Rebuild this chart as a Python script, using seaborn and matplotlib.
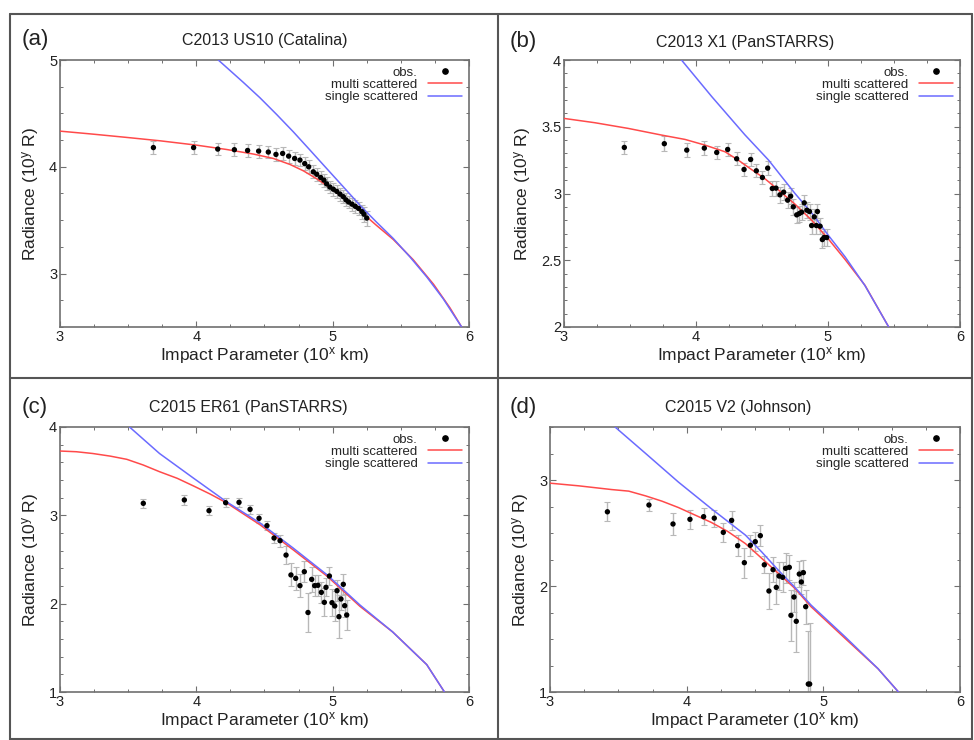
import numpy as np
import pandas as pd
import matplotlib
matplotlib.use("Agg")
import matplotlib.pyplot as plt
from matplotlib.lines import Line2D
from matplotlib.ticker import MultipleLocator, FormatStrFormatter
import seaborn as sns

# ---------------- data ----------------
# Panel (a) C2013 US10 (Catalina)
a_obs_x = [3.685, 3.98, 4.157, 4.279, 4.376, 4.457, 4.528, 4.584, 4.633, 4.677, 4.721, 4.760,
           4.795, 4.824, 4.858, 4.883, 4.912, 4.936, 4.956, 4.98, 5.005, 5.03, 5.054, 5.078,
           5.098, 5.117, 5.142, 5.166, 5.19, 5.215, 5.23, 5.25]
a_obs_y = [4.18, 4.18, 4.166, 4.16, 4.153, 4.147, 4.138, 4.116, 4.125, 4.10, 4.078, 4.063,
           4.03, 4.0, 3.953, 3.93, 3.90, 3.875, 3.84, 3.81, 3.79, 3.77, 3.744, 3.72,
           3.69, 3.67, 3.65, 3.63, 3.61, 3.58, 3.556, 3.52]
a_obs_err = [0.06] * 26 + [0.06, 0.06, 0.065, 0.065, 0.07, 0.07]
a_multi_x = [3.0, 3.24, 3.49, 3.73, 4.0, 4.22, 4.42, 4.565, 4.687, 4.785, 4.88, 4.98, 5.078,
             5.20, 5.32, 5.445, 5.59, 5.74, 5.86, 5.946]
a_multi_y = [4.334, 4.306, 4.275, 4.244, 4.203, 4.1625, 4.119, 4.078, 4.022, 3.9625, 3.89,
             3.806, 3.7125, 3.5875, 3.453, 3.319, 3.131, 2.90, 2.68, 2.5]
a_single_x = [4.161, 4.345, 4.467, 4.589, 4.711, 4.834, 4.956, 5.078, 5.20, 5.32, 5.445,
              5.567, 5.69, 5.81, 5.946]
a_single_y = [5.0, 4.79, 4.646, 4.49, 4.328, 4.156, 3.984, 3.8125, 3.64, 3.484, 3.328,
              3.156, 2.969, 2.766, 2.5]

# Panel (b) C2013 X1 (PanSTARRS)
b_obs_x = [3.457, 3.76, 3.93, 4.063, 4.157, 4.24, 4.308, 4.364, 4.414, 4.457, 4.503, 4.543,
           4.578, 4.606, 4.636, 4.664, 4.694, 4.717, 4.737, 4.763, 4.783, 4.80, 4.82, 4.84,
           4.86, 4.876, 4.896, 4.912, 4.92, 4.94, 4.957, 4.97, 4.99]
b_obs_y = [3.345, 3.373, 3.325, 3.34, 3.3075, 3.33, 3.26, 3.18, 3.255, 3.17, 3.12, 3.19,
           3.0375, 3.04, 2.99, 3.01, 2.95, 2.98, 2.90, 2.84, 2.85, 2.86, 2.93, 2.875,
           2.865, 2.76, 2.825, 2.76, 2.865, 2.755, 2.655, 2.67, 2.67]
b_obs_err = [0.05, 0.055, 0.05, 0.05, 0.05, 0.05, 0.05, 0.05, 0.05, 0.05, 0.05, 0.055,
             0.055, 0.055, 0.06, 0.06, 0.06, 0.06, 0.06, 0.06, 0.06, 0.06, 0.06, 0.06,
             0.06, 0.06, 0.06, 0.06, 0.06, 0.06, 0.065, 0.065, 0.065]
b_multi_x = [3.0, 3.235, 3.487, 3.74, 3.917, 4.068, 4.22, 4.32, 4.42, 4.52, 4.62, 4.75,
             4.876, 5.0, 5.13, 5.28, 5.46]
b_multi_y = [3.5625, 3.53, 3.4875, 3.4375, 3.405, 3.3625, 3.3125, 3.25, 3.18, 3.1125, 3.03,
             2.92, 2.80, 2.6625, 2.505, 2.3125, 2.0]
b_single_x = [3.89, 4.12, 4.37, 4.55, 4.75, 4.88, 5.0, 5.13, 5.28, 5.46]
b_single_y = [4.0, 3.725, 3.44, 3.25, 3.0, 2.85, 2.69, 2.525, 2.31, 2.0]

# Panel (c) C2015 ER61 (PanSTARRS)
c_obs_x = [3.611, 3.912, 4.093, 4.215, 4.313, 4.394, 4.46, 4.518, 4.57, 4.614, 4.658, 4.694,
           4.729, 4.76, 4.792, 4.819, 4.846, 4.868, 4.892, 4.917, 4.939, 4.951, 4.976, 4.995,
           5.015, 5.032, 5.046, 5.061, 5.078, 5.088, 5.103]
c_obs_y = [3.136, 3.174, 3.053, 3.143, 3.147, 3.068, 2.966, 2.883, 2.743, 2.713, 2.55, 2.325,
           2.287, 2.204, 2.362, 1.90, 2.275, 2.204, 2.208, 2.128, 2.015, 2.185, 2.313, 2.011,
           1.974, 2.147, 1.853, 2.053, 2.219, 1.977, 1.872]
c_obs_err = [0.05, 0.06, 0.05, 0.05, 0.05, 0.05, 0.05, 0.05, 0.06, 0.07, 0.1, 0.13,
             0.13, 0.13, 0.12, 0.22, 0.14, 0.12, 0.12, 0.12, 0.16, 0.1, 0.1, 0.15,
             0.17, 0.12, 0.24, 0.13, 0.12, 0.13, 0.17]
c_multi_x = [3.0, 3.12, 3.24, 3.37, 3.49, 3.61, 3.73, 3.86, 3.98, 4.10, 4.22, 4.47, 4.71,
             4.96, 5.20, 5.44, 5.69, 5.82]
c_multi_y = [3.728, 3.72, 3.70, 3.67, 3.634, 3.57, 3.494, 3.419, 3.332, 3.242, 3.143, 2.89,
             2.61, 2.31, 1.97, 1.68, 1.31, 1.0]
c_single_x = [3.51, 3.73, 3.98, 4.22, 4.47, 4.71, 4.96, 5.20, 5.44, 5.69, 5.82]
c_single_y = [4.0, 3.70, 3.42, 3.155, 2.91, 2.63, 2.325, 1.985, 1.68, 1.31, 1.0]

# Panel (d) C2015 V2 (Johnson)
d_obs_x = [3.42, 3.724, 3.90, 4.024, 4.124, 4.202, 4.268, 4.329, 4.373, 4.422, 4.466, 4.502,
           4.539, 4.568, 4.602, 4.632, 4.656, 4.676, 4.702, 4.724, 4.751, 4.763, 4.785, 4.802,
           4.824, 4.839, 4.854, 4.871, 4.89, 4.90]
d_obs_y = [2.70, 2.764, 2.585, 2.629, 2.654, 2.64, 2.506, 2.619, 2.38, 2.22, 2.384, 2.418,
           2.475, 2.20, 1.953, 2.154, 1.987, 2.094, 2.082, 2.167, 2.176, 1.723, 1.896, 1.667,
           2.113, 2.038, 2.126, 1.805, 1.075, 1.075]
d_obs_err = [0.09, 0.06, 0.1, 0.09, 0.08, 0.08, 0.09, 0.09, 0.1, 0.14, 0.1, 0.09,
             0.1, 0.08, 0.17, 0.12, 0.16, 0.13, 0.14, 0.14, 0.12, 0.24, 0.14, 0.29,
             0.12, 0.11, 0.12, 0.16, 0.5, 0.58]
d_multi_x = [3.0, 3.21, 3.45, 3.576, 3.70, 3.82, 3.94, 4.06, 4.18, 4.30, 4.43, 4.55, 4.67,
             4.79, 4.91, 5.16, 5.40, 5.55]
d_multi_y = [2.97, 2.945, 2.91, 2.895, 2.85, 2.80, 2.74, 2.67, 2.60, 2.515, 2.40, 2.26, 2.12,
             1.98, 1.805, 1.505, 1.22, 1.0]
d_single_x = [3.476, 3.70, 3.94, 4.18, 4.43, 4.55, 4.67, 4.79, 4.91, 5.16, 5.40, 5.55]
d_single_y = [3.5, 3.25, 2.98, 2.73, 2.48, 2.32, 2.15, 1.99, 1.82, 1.52, 1.22, 1.0]

titles = ["C2013 US10 (Catalina)", "C2013 X1 (PanSTARRS)",
          "C2015 ER61 (PanSTARRS)", "C2015 V2 (Johnson)"]
letters = ["(a)", "(b)", "(c)", "(d)"]
legend_labels = ["obs.", "multi scattered", "single scattered"]
x_label = "Impact Parameter (10$^{x}$ km)"
y_label = "Radiance (10$^{y}$ R)"

# ---------------- style ----------------
sns.set_style("ticks")
plt.rcParams["font.family"] = ["Liberation Sans", "DejaVu Sans"]
plt.rcParams["mathtext.default"] = "regular"

RED = "#ff4a4a"
BLUE = "#6b6bff"
SPINE = "#707070"
ERR = "#b8b8b8"

W, H = 974, 740
fig = plt.figure(figsize=(W / 100, H / 100), dpi=100)


def fr(l, t, r, b):
    return [l / W, 1 - b / H, (r - l) / W, (b - t) / H]


panels = [
    dict(rect=fr(60, 60, 469, 327), ox=a_obs_x, oy=a_obs_y, oe=a_obs_err,
         mx=a_multi_x, my=a_multi_y, sx=a_single_x, sy=a_single_y,
         ylim=(2.5, 5), ymaj=1.0, ymin=0.25,
         title_xy=(265, 40), letter_xy=(22, 40)),
    dict(rect=fr(564, 60, 960, 327), ox=b_obs_x, oy=b_obs_y, oe=b_obs_err,
         mx=b_multi_x, my=b_multi_y, sx=b_single_x, sy=b_single_y,
         ylim=(2, 4), ymaj=0.5, ymin=0.1,
         title_xy=(745, 42), letter_xy=(510, 42)),
    dict(rect=fr(60, 427, 469, 692), ox=c_obs_x, oy=c_obs_y, oe=c_obs_err,
         mx=c_multi_x, my=c_multi_y, sx=c_single_x, sy=c_single_y,
         ylim=(1, 4), ymaj=1.0, ymin=0.2,
         title_xy=(248, 407), letter_xy=(22, 407)),
    dict(rect=fr(550, 427, 960, 692), ox=d_obs_x, oy=d_obs_y, oe=d_obs_err,
         mx=d_multi_x, my=d_multi_y, sx=d_single_x, sy=d_single_y,
         ylim=(1, 3.5), ymaj=1.0, ymin=0.25,
         title_xy=(738, 407), letter_xy=(510, 407)),
]

for i, p in enumerate(panels):
    ax = fig.add_axes(p["rect"])
    ax.errorbar(p["ox"], p["oy"], yerr=p["oe"], fmt="none", ecolor=ERR,
                elinewidth=1.0, capsize=2, capthick=0.8, zorder=2)
    sns.lineplot(x=p["mx"], y=p["my"], ax=ax, color=RED, lw=1.1, sort=False,
                 estimator=None, zorder=3)
    sns.lineplot(x=p["sx"], y=p["sy"], ax=ax, color=BLUE, lw=1.1, sort=False,
                 estimator=None, zorder=3)
    sns.scatterplot(x=p["ox"], y=p["oy"], ax=ax, color="black", s=15,
                    edgecolor="none", zorder=4)
    ax.set_xlim(3, 6)
    ax.set_ylim(*p["ylim"])
    ax.xaxis.set_major_locator(MultipleLocator(1))
    ax.xaxis.set_minor_locator(MultipleLocator(0.25))
    ax.yaxis.set_major_locator(MultipleLocator(p["ymaj"]))
    ax.yaxis.set_minor_locator(MultipleLocator(p["ymin"]))
    ax.xaxis.set_major_formatter(FormatStrFormatter("%g"))
    ax.yaxis.set_major_formatter(FormatStrFormatter("%g"))
    ax.tick_params(which="both", direction="in", top=True, right=True,
                   color=SPINE, labelsize=10.5, labelcolor="#222222")
    ax.tick_params(which="major", length=4, width=0.8, pad=2)
    ax.tick_params(which="minor", length=2.5, width=0.7)
    for s in ax.spines.values():
        s.set_color(SPINE)
        s.set_linewidth(1.2)
    ax.set_xlabel(x_label, fontsize=12.5, color="#222222", labelpad=1)
    ax.set_ylabel(y_label, fontsize=12.5, color="#222222", labelpad=6)
    handles = [
        Line2D([], [], marker="o", color="black", ls="none", markersize=3.8),
        Line2D([], [], color=RED, lw=1.1),
        Line2D([], [], color=BLUE, lw=1.1),
    ]
    ax.legend(handles, legend_labels, loc="upper right", frameon=False,
              markerfirst=False, fontsize=9.5, handlelength=2.6,
              handletextpad=0.8, labelspacing=0.0, borderaxespad=0.1)
    tx, ty = p["title_xy"]
    fig.text(tx / W, 1 - ty / H, titles[i], ha="center", va="center",
             fontsize=11.5, color="#222222")
    lx, ly = p["letter_xy"]
    fig.text(lx / W, 1 - ly / H, letters[i], ha="left", va="center",
             fontsize=16, color="#222222")

# outer frame and dividers
frame_kw = dict(color="#555555", lw=1.5, transform=fig.transFigure)
for (x0, y0, x1, y1) in [(10, 14, 972, 14), (10, 14, 10, 740), (972, 14, 972, 740),
                         (498, 14, 498, 740), (10, 378, 972, 378), (10, 739, 972, 739)]:
    fig.add_artist(Line2D([x0 / W, x1 / W], [1 - y0 / H, 1 - y1 / H], **frame_kw))

fig.savefig("out.png", dpi=100, facecolor="white")
